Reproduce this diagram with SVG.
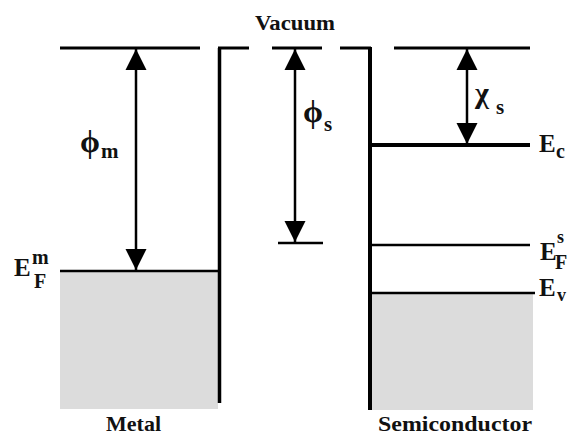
<svg xmlns="http://www.w3.org/2000/svg" width="579" height="436" viewBox="0 0 579 436">
<style>
.t{font-family:"Liberation Serif","Times New Roman",serif;font-weight:bold;fill:#111}
.ln{stroke:#000;fill:none;stroke-linecap:butt}
.fill{fill:#dcdcdc}
</style>
<defs>
<marker id="ah" viewBox="0 0 10 10" refX="10" refY="5" markerWidth="8.5" markerHeight="9" markerUnits="strokeWidth" orient="auto-start-reverse">
<path d="M0,0 L10,5 L0,10 Z" fill="#000"/>
</marker>
</defs>
<rect width="579" height="436" fill="#fff"/>
<g id="metal">
<rect class="fill" x="60" y="271" width="158" height="138"/>
<line class="ln" x1="60" y1="271" x2="219" y2="271" stroke-width="2.5"/>
<line class="ln" x1="219.5" y1="48" x2="219.5" y2="403" stroke-width="3.5"/>
</g>
<g id="semiconductor">
<rect class="fill" x="371" y="293" width="162" height="117"/>
<line class="ln" x1="370" y1="145" x2="530" y2="145" stroke-width="4"/>
<line class="ln" x1="370" y1="245" x2="530" y2="245" stroke-width="2.5"/>
<line class="ln" x1="370" y1="293" x2="535" y2="293" stroke-width="2.5"/>
<line class="ln" x1="370" y1="47" x2="370" y2="410" stroke-width="4"/>
</g>
<g id="vacuum">
<line class="ln" x1="60" y1="48" x2="200" y2="48" stroke-width="3"/>
<line class="ln" x1="218" y1="48" x2="249" y2="48" stroke-width="3"/>
<line class="ln" x1="272" y1="48" x2="322" y2="48" stroke-width="3"/>
<line class="ln" x1="340" y1="48" x2="371" y2="48" stroke-width="3"/>
<line class="ln" x1="394" y1="48" x2="530" y2="48" stroke-width="3"/>
<line class="ln" x1="278" y1="243" x2="323" y2="243" stroke-width="2.5"/>
</g>
<g id="connectors">
<line class="ln" x1="136" y1="49" x2="136" y2="270" stroke-width="2.5" marker-start="url(#ah)" marker-end="url(#ah)"/>
<line class="ln" x1="295" y1="49" x2="295" y2="242" stroke-width="2.5" marker-start="url(#ah)" marker-end="url(#ah)"/>
<line class="ln" x1="467" y1="49" x2="467" y2="144" stroke-width="2.5" marker-start="url(#ah)" marker-end="url(#ah)"/>
</g>
<g id="labels">
<text class="t" x="255" y="30" font-size="20" textLength="80" lengthAdjust="spacingAndGlyphs">Vacuum</text>
<text class="t" x="80" y="152" font-size="32">ϕ</text>
<text class="t" x="101" y="158" font-size="21">m</text>
<text class="t" x="303" y="122" font-size="32">ϕ</text>
<text class="t" x="324" y="131" font-size="21">s</text>
<text class="t" x="475" y="103" font-size="30">χ</text>
<text class="t" x="496" y="114" font-size="21">s</text>
<text class="t" x="539" y="152" font-size="25">E</text>
<text class="t" x="556" y="158" font-size="20">c</text>
<text class="t" x="14" y="276" font-size="25">E</text>
<text class="t" x="32" y="264" font-size="20">m</text>
<text class="t" x="34" y="288" font-size="20">F</text>
<text class="t" x="540" y="260" font-size="25">E</text>
<text class="t" x="557" y="243" font-size="18">s</text>
<text class="t" x="555" y="269" font-size="20">F</text>
<text class="t" x="539" y="296" font-size="25">E</text>
<text class="t" x="557" y="301" font-size="18">v</text>
<text class="t" x="106" y="431" font-size="22" textLength="55" lengthAdjust="spacingAndGlyphs">Metal</text>
<text class="t" x="378" y="431" font-size="22" textLength="154" lengthAdjust="spacingAndGlyphs">Semiconductor</text>
</g>
</svg>
